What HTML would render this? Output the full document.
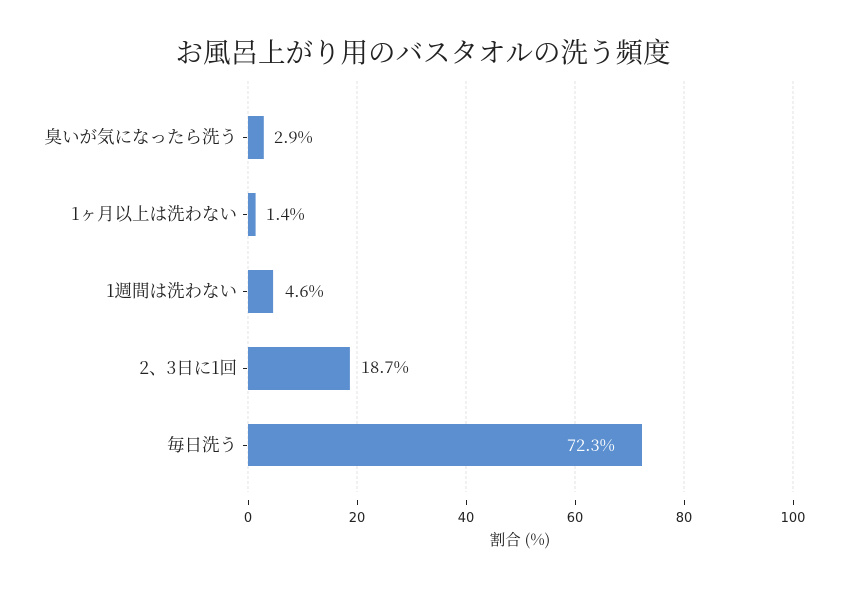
<!DOCTYPE html>
<html><head><meta charset="utf-8"><style>
html,body{margin:0;padding:0;background:#fff;}
svg text{font-family:"Noto Serif CJK SC","Liberation Serif",serif;fill:#222;}
.t{font-family:"DejaVu Sans","Liberation Sans",sans-serif;font-size:13px;fill:#222;}
</style></head><body>
<svg width="846" height="588" viewBox="0 0 846 588" xmlns="http://www.w3.org/2000/svg">
<rect width="846" height="588" fill="#fff"/>
<text x="423" y="62" text-anchor="middle" font-size="27.5">お風呂上がり用のバスタオルの洗う頻度</text>
<g stroke="#d0d0d0" stroke-width="0.6" stroke-dasharray="3,2">
<line x1="248" y1="81" x2="248" y2="492"/>
<line x1="357" y1="81" x2="357" y2="492"/>
<line x1="466" y1="81" x2="466" y2="492"/>
<line x1="575" y1="81" x2="575" y2="492"/>
<line x1="684" y1="81" x2="684" y2="492"/>
<line x1="793" y1="81" x2="793" y2="492"/>
</g>
<g fill="#5b8fd0">
<rect x="248" y="116" width="15.8" height="43"/>
<rect x="248" y="193" width="7.6" height="43"/>
<rect x="248" y="270" width="25.1" height="43"/>
<rect x="248" y="347" width="101.9" height="43"/>
<rect x="248" y="424" width="394.0" height="42"/>
</g>
<g stroke="#222" stroke-width="1">
<line x1="243" y1="137.5" x2="247" y2="137.5"/>
<line x1="243" y1="214.5" x2="247" y2="214.5"/>
<line x1="243" y1="291.5" x2="247" y2="291.5"/>
<line x1="243" y1="368.5" x2="247" y2="368.5"/>
<line x1="243" y1="445.5" x2="247" y2="445.5"/>
<line x1="248.5" y1="500" x2="248.5" y2="505"/>
<line x1="357.5" y1="500" x2="357.5" y2="505"/>
<line x1="466.5" y1="500" x2="466.5" y2="505"/>
<line x1="575.5" y1="500" x2="575.5" y2="505"/>
<line x1="684.5" y1="500" x2="684.5" y2="505"/>
<line x1="793.5" y1="500" x2="793.5" y2="505"/>
</g>
<g font-size="17.5" text-anchor="end">
<text x="237" y="143">臭いが気になったら洗う</text>
<text x="237" y="220">1ヶ月以上は洗わない</text>
<text x="237" y="297">1週間は洗わない</text>
<text x="237" y="374">2、3日に1回</text>
<text x="237" y="451">毎日洗う</text>
</g>
<g font-size="16.5">
<text x="274" y="143">2.9%</text>
<text x="266" y="220">1.4%</text>
<text x="285" y="297">4.6%</text>
<text x="361" y="373">18.7%</text>
<text x="567" y="451" style="fill:#fff">72.3%</text>
</g>
<g text-anchor="middle">
<text class="t" x="248" y="522">0</text>
<text class="t" x="357" y="522">20</text>
<text class="t" x="466" y="522">40</text>
<text class="t" x="575" y="522">60</text>
<text class="t" x="684" y="522">80</text>
<text class="t" x="793" y="522">100</text>
</g>
<text x="520" y="545" text-anchor="middle" font-size="15.5">割合 (%)</text>
</svg>
</body></html>
